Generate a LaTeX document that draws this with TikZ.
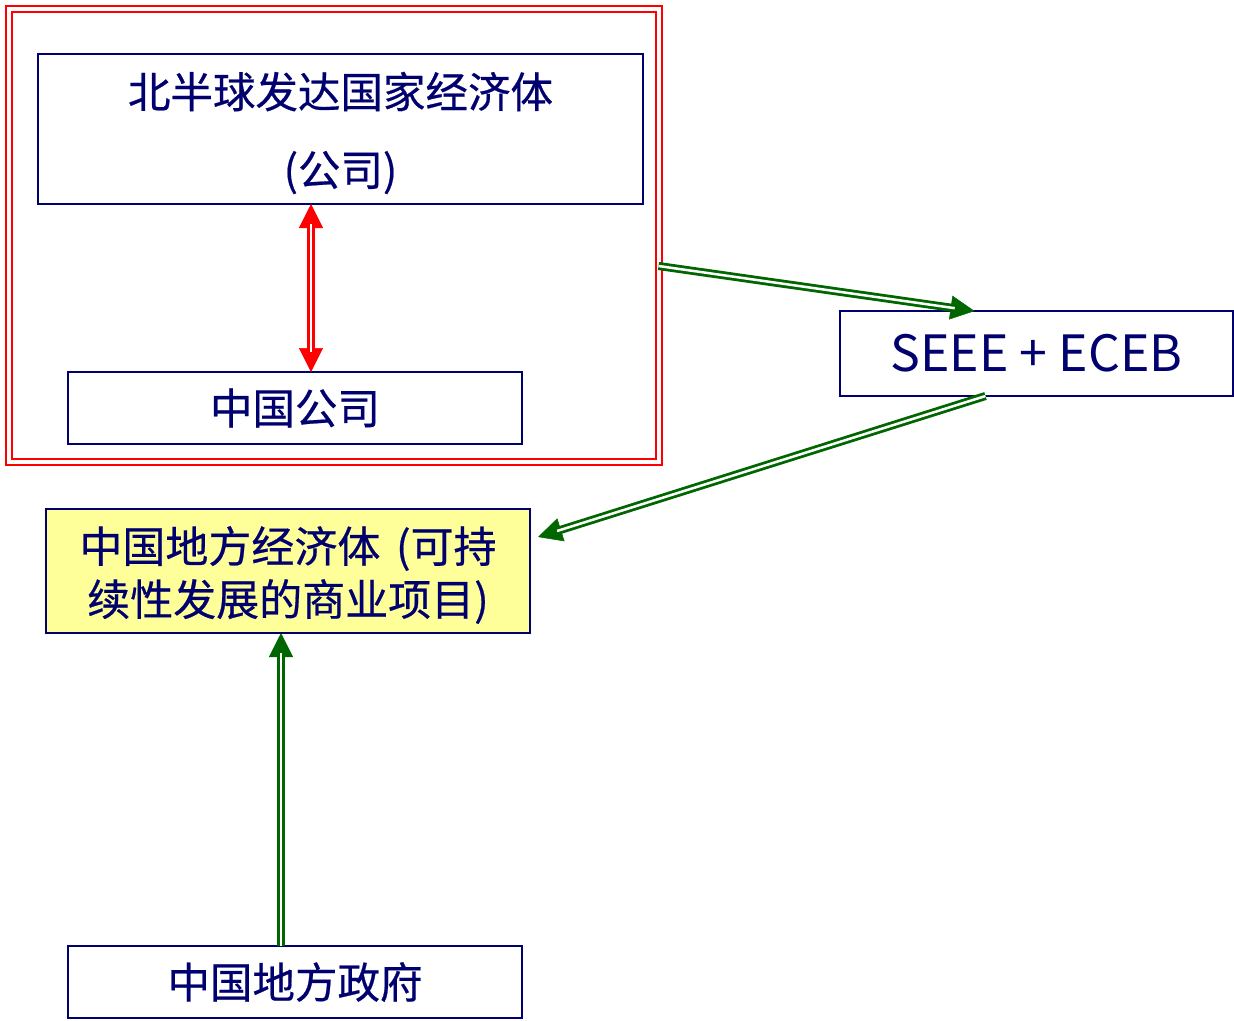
\documentclass[tikz,border=0pt]{standalone}
\usepackage{fontspec}
\setmainfont[FakeBold=0.5]{Noto Sans CJK SC}
\newfontfamily\latinfont{Noto Sans CJK SC}
\usetikzlibrary{arrows.meta,calc}
\definecolor{navy}{RGB}{0,0,110}
\definecolor{dgreen}{RGB}{0,102,0}
\definecolor{lyellow}{RGB}{255,255,153}
\newcommand{\lowr}[1]{\raisebox{-4pt}[\height][\depth]{#1}}
\begin{document}
\begin{tikzpicture}[x=1pt,y=-1pt,
  box/.style={draw=navy,line width=1.6pt,text=navy,inner sep=0pt,outer sep=0pt,align=center,font=\fontsize{42.5}{50}\selectfont},
  frame/.style={draw=red,double=white,line width=2pt,double distance=4pt,inner sep=0pt,outer sep=0pt},
  dline/.style={line width=2.8pt,double=white,double distance=2.5pt},
  tipline/.style={line width=0.5pt,shorten >=0pt},
  greentip/.style={dgreen,tipline,-{Triangle[length=24pt,width=24pt]}},
  redtips/.style={red,tipline,{Triangle[length=24pt,width=24pt]}-{Triangle[length=24pt,width=24pt]}}]
\useasboundingbox (0,0) rectangle (1234,1020);
\node[frame,minimum width=650pt,minimum height=453pt] (frame) at (333.5,235) {};
\node[box,minimum width=605pt,minimum height=150pt,font=\fontsize{42.5}{78}\selectfont] (box1) at (340.5,129) {\lowr{北半球发达国家经济体}\\\lowr{(公司)}};
\node[box,minimum width=454pt,minimum height=72pt] (cn) at (295,408) {中国公司};
\node[box,minimum width=393pt,minimum height=85pt,font=\latinfont\fontsize{50}{60}\selectfont] (seee) at (1036.5,353.5) {SEEE + ECEB};
\node[box,fill=lyellow,minimum width=484pt,minimum height=124pt,font=\fontsize{43}{53}\selectfont] (yel) at (288,571) {\lowr{中国地方经济体\hspace{6pt} (可持}\\\lowr{续性发展的商业项目)}};
\node[box,minimum width=454pt,minimum height=72pt] (gov) at (295,982) {中国地方政府};
\coordinate (rx) at (311,0);
\coordinate (gx) at (281,0);
% red double-headed arrow
\draw[redtips] (box1.south -| rx) -- (cn.north -| rx);
\draw[red,dline,shorten >=20pt,shorten <=20pt] (box1.south -| rx) -- (cn.north -| rx);
% frame -> SEEE
\coordinate (a1) at ($(frame.east)+(0,31)$);
\coordinate (b1) at ($(seee.north)+(-62,0)$);
\draw[greentip] (a1) -- (b1);
\draw[dgreen,dline,shorten >=20pt] (a1) -- (b1);
% SEEE -> yellow
\coordinate (a2) at ($(seee.south)+(-51,0)$);
\coordinate (b2) at ($(yel.east)+(8,-34)$);
\draw[greentip] (a2) -- (b2);
\draw[dgreen,dline,shorten >=20pt] (a2) -- (b2);
% gov -> yellow
\draw[greentip] (gov.north -| gx) -- (yel.south -| gx);
\draw[dgreen,dline,shorten >=20pt] (gov.north -| gx) -- (yel.south -| gx);
\end{tikzpicture}
\end{document}
